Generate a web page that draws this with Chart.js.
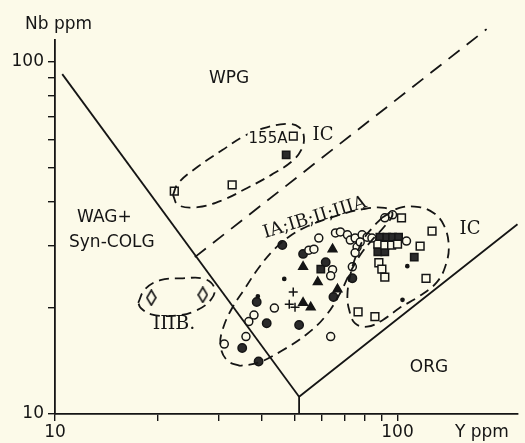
<!DOCTYPE html>
<html>
<head>
<meta charset="utf-8">
<script src="https://cdn.jsdelivr.net/npm/chart.js@4"></script>
<style>
  html, body { margin: 0; padding: 0; background: #fcfae9; }
  #chart { display: block; }
</style>
</head>
<body>
<canvas id="chart" width="525" height="443"></canvas>
<script>
// Nb - Y discrimination diagram, both axes log
const xTicks = [10, 20, 30, 40, 50, 60, 70, 80, 90, 100];
const yTicks = [10, 20, 30, 40, 50, 60, 70, 80, 90, 100];
const xLabelled = [10, 100];
const yLabelled = [10, 100];

// field boundaries, [Y, Nb]
const wpgBoundary = [[10.5, 92.4], [51.6, 11.2]];
const orgBoundary = [[51.6, 10], [51.6, 11.2], [224, 34.6]];
const dashedBoundary = [[25.6, 27.9], [182, 124]];

// group envelopes (dashed), [Y, Nb]
const env155A = [[22.1, 41.9], [22.9, 45.3], [26.1, 50.4], [30.8, 56.2], [35.2, 61.2], [40.1, 64.6], [47.3, 66.7], [51.6, 65.3], [53.3, 61.2], [52.3, 56.2], [48.9, 52.0], [42.8, 47.8], [36.3, 43.8], [30.8, 40.5], [26.1, 38.7], [22.9, 39.2], [22.1, 41.9]];
const envIIIB = [[17.5, 20.7], [18.3, 22.6], [20.3, 24.0], [23.6, 24.3], [27.3, 24.2], [29.2, 22.8], [28.5, 21.1], [25.6, 19.6], [22.1, 19.0], [19.1, 19.2], [17.8, 20.0], [17.5, 20.7]];
const envIA = [[34.7, 13.7], [31.8, 14.2], [30.4, 15.7], [31.0, 17.6], [32.9, 20.0], [35.9, 22.8], [39.3, 26.0], [43.4, 29.2], [48.0, 31.8], [54.8, 34.2], [65.9, 36.5], [79.3, 38.2], [91.8, 38.5], [96.7, 37.0], [91.8, 34.2], [84.2, 31.2], [77.8, 28.3], [72.8, 25.3], [68.1, 22.1], [61.7, 19.0], [54.1, 16.8], [45.8, 15.1], [39.3, 14.0], [34.7, 13.7]];
const envIC = [[90.0, 36.1], [101.3, 38.5], [115.7, 38.7], [127.8, 37.2], [136.5, 34.4], [141.1, 30.2], [138.3, 26.5], [130.3, 23.7], [115.7, 21.6], [101.3, 20.0], [90.6, 18.5], [81.5, 17.7], [75.2, 18.1], [72.3, 19.7], [71.4, 21.8], [72.8, 24.8], [75.2, 27.7], [79.3, 31.2], [84.2, 33.7], [90.0, 36.1]];

// samples, [Y, Nb]
const openCircles = [[31.2, 15.8], [36.1, 16.6], [36.8, 18.3], [38.1, 19.1], [43.7, 20.0], [63.8, 16.6], [55.1, 29.2], [57.0, 29.4], [58.9, 31.6], [65.9, 32.7], [68.1, 32.9], [71.4, 32.3], [72.8, 31.2], [75.2, 31.6], [78.8, 32.3], [81.5, 31.8], [84.2, 31.6], [76.2, 29.8], [75.2, 28.7], [73.8, 26.2], [64.6, 25.7], [63.8, 24.7], [91.8, 36.1], [96.7, 36.8], [106.2, 31.0], [77.8, 30.8]];
const filledCircles = [[46.1, 30.2], [53.0, 28.5], [61.7, 27.0], [73.8, 24.3], [65.0, 21.5], [38.8, 20.8], [41.5, 18.1], [51.6, 17.9], [35.2, 15.4], [39.3, 14.1]];
const triangles = [[53.0, 26.2], [58.5, 23.7], [64.6, 29.4], [66.8, 22.6], [53.0, 20.7], [55.8, 20.1]];
const filledSquares = [[47.3, 54.5], [59.7, 25.8], [88.8, 31.8], [93.0, 31.8], [96.7, 31.8], [100.7, 31.8], [87.6, 28.9], [91.8, 28.9], [111.9, 27.9]];
const openSquares = [[22.3, 43.0], [32.9, 44.8], [49.6, 61.6], [87.6, 30.4], [91.8, 30.2], [96.1, 30.2], [100, 30.4], [102.7, 36.1], [126.1, 33.1], [116.4, 30.0], [88.2, 26.9], [90.0, 25.8], [91.8, 24.5], [121.1, 24.3], [76.7, 19.5], [85.9, 18.9]];
const dots = [[46.7, 24.2], [106.8, 26.3], [103.4, 21.1], [39.1, 21.6]];
const crosses = [[49.6, 22.2], [48.3, 20.5], [50.2, 20.1]];
const diamonds = [[19.1, 21.4], [27.0, 21.8]];

const ink = '#151515';
const paper = '#fcfae9';
const toXY = arr => arr.map(([x, y]) => ({ x, y }));

function tallDiamond() {
  const c = document.createElement('canvas');
  c.width = 11; c.height = 17;
  const g = c.getContext('2d');
  g.strokeStyle = ink;
  g.lineWidth = 1.6;
  g.beginPath();
  g.moveTo(5.5, 1); g.lineTo(10, 8.5); g.lineTo(5.5, 16); g.lineTo(1, 8.5);
  g.closePath();
  g.stroke();
  return c;
}

function boundary(data, dash) {
  return {
    data: toXY(data), showLine: true, borderColor: ink, borderWidth: 1.8,
    borderDash: dash || [], pointRadius: 0, tension: 0, clip: false
  };
}
function envelope(data) {
  return {
    data: toXY(data), showLine: true, borderColor: ink, borderWidth: 1.8,
    borderDash: [10, 6], pointRadius: 0, tension: 0.4, clip: false
  };
}
function marker(data, style, r, fill) {
  return {
    data: toXY(data), showLine: false, pointStyle: style, pointRadius: r,
    borderColor: ink, borderWidth: 1.5, backgroundColor: fill
  };
}

// text on the plot
const labels = [
  { t: 'Nb ppm', x: 25, y: 25, f: '17px "DejaVu Sans"', a: 'left' },
  { t: 'Y ppm', x: 455, y: 433, f: '17px "DejaVu Sans"', a: 'left' },
  { t: 'WPG', x: 229, y: 79, f: '17px "DejaVu Sans"', a: 'center' },
  { t: '155A', x: 268, y: 139, f: '15px "DejaVu Sans"', a: 'center', bg: true },
  { t: 'IC', x: 323, y: 135, f: '18px "DejaVu Serif"', a: 'center' },
  { t: 'WAG+', x: 77, y: 218, f: '17px "DejaVu Sans"', a: 'left' },
  { t: 'Syn-COLG', x: 69, y: 243, f: '17px "DejaVu Sans"', a: 'left' },
  { t: 'IIIB.', x: 174, y: 324, f: '19px "DejaVu Serif"', a: 'center' },
  { t: 'IC', x: 470, y: 229, f: '18px "DejaVu Serif"', a: 'center' },
  { t: 'ORG', x: 429, y: 368, f: '17px "DejaVu Sans"', a: 'center' }
];

const textPlugin = {
  id: 'plotText',
  afterDatasetsDraw(chart) {
    const ctx = chart.ctx;
    ctx.save();
    ctx.fillStyle = ink;
    ctx.textBaseline = 'middle';
    labels.forEach(l => {
      ctx.font = l.f;
      ctx.textAlign = l.a;
      if (l.bg) {
        const w = ctx.measureText(l.t).width;
        ctx.fillStyle = paper;
        ctx.fillRect(l.x - w / 2 - 1, l.y - 9, w + 2, 18);
        ctx.fillStyle = ink;
      }
      ctx.fillText(l.t, l.x, l.y);
    });
    // group label running along the big envelope
    ctx.translate(265, 238);
    ctx.rotate(-17 * Math.PI / 180);
    ctx.font = '18px "DejaVu Serif"';
    ctx.textAlign = 'left';
    ctx.textBaseline = 'alphabetic';
    ctx.fillText('IA;IB;II;IIIA', 0, 0);
    ctx.restore();
  }
};

new Chart(document.getElementById('chart'), {
  type: 'scatter',
  data: {
    datasets: [
      boundary(wpgBoundary),
      boundary(orgBoundary),
      boundary(dashedBoundary, [14, 9]),
      envelope(env155A),
      envelope(envIIIB),
      envelope(envIA),
      envelope(envIC),
      marker(openCircles, 'circle', 4, paper),
      marker(openSquares, 'rect', 5.5, paper),
      marker(filledCircles, 'circle', 4.2, '#2a2a2a'),
      marker(filledSquares, 'rect', 5.2, '#2a2a2a'),
      marker(triangles, 'triangle', 5, ink),
      marker(dots, 'circle', 1.6, ink),
      marker(crosses, 'cross', 4.5, ink),
      marker(diamonds, tallDiamond(), 6, 'transparent')
    ]
  },
  options: {
    responsive: false,
    animation: false,
    events: [],
    layout: { padding: { top: 40, right: 0, bottom: 0, left: 0 } },
    plugins: { legend: { display: false }, tooltip: { enabled: false } },
    scales: {
      x: {
        type: 'logarithmic', min: 10, max: 224,
        afterBuildTicks: s => { s.ticks = xTicks.map(v => ({ value: v })); },
        afterFit: s => { s.height = 29; },
        grid: { drawOnChartArea: false, tickLength: 7, color: ink, lineWidth: 1.4 },
        border: { display: true, color: ink, width: 1.8 },
        ticks: {
          autoSkip: false, maxRotation: 0, padding: 1, color: ink,
          font: { family: 'DejaVu Sans', size: 17 },
          callback: v => xLabelled.includes(v) ? String(v) : ''
        }
      },
      y: {
        type: 'logarithmic', min: 10, max: 115.5,
        afterBuildTicks: s => { s.ticks = yTicks.map(v => ({ value: v })); },
        afterFit: s => { s.width = 55; },
        grid: { drawOnChartArea: false, tickLength: 7, color: ink, lineWidth: 1.4 },
        border: { display: true, color: ink, width: 1.8 },
        ticks: {
          autoSkip: false, padding: 4, color: ink,
          font: { family: 'DejaVu Sans', size: 17 },
          callback: v => yLabelled.includes(v) ? String(v) : ''
        }
      }
    }
  },
  plugins: [textPlugin]
});
</script>
</body>
</html>
